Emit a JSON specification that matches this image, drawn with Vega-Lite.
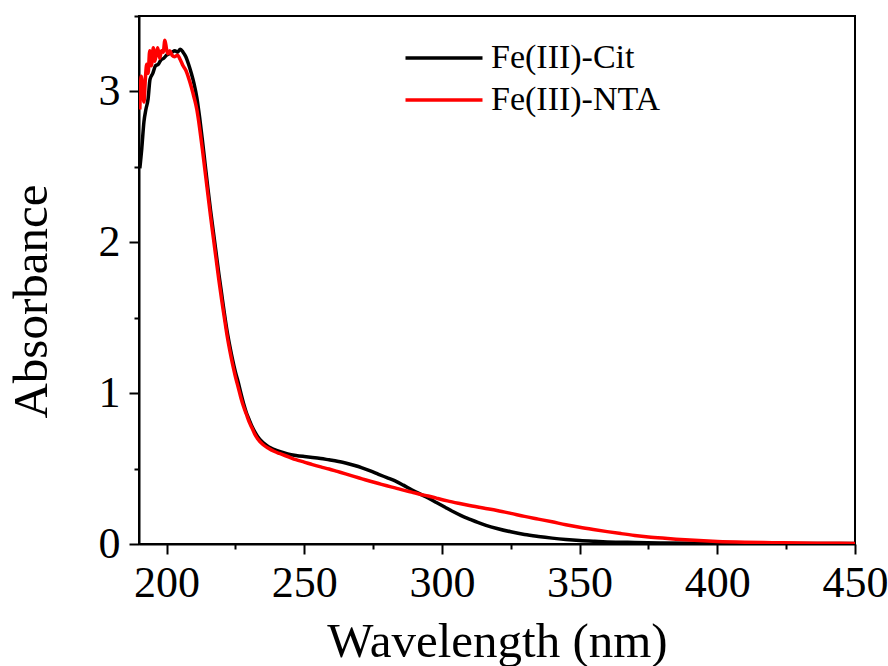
{
  "$schema": "https://vega.github.io/schema/vega-lite/v6.json",
  "autosize": {"type": "none"},
  "padding": {"left": 139, "top": 16, "right": 33, "bottom": 122},
  "width": 716,
  "height": 528,
  "background": "white",
  "config": {
    "view": {"stroke": "black", "strokeWidth": 2},
    "font": "Liberation Serif"
  },
  "datasets": {
    "cit": [
      {"w": 190.3, "a": 2.49}, {"w": 191, "a": 2.62}, {"w": 191.8, "a": 2.8}, {"w": 192.5, "a": 2.88},
      {"w": 193.3, "a": 2.95}, {"w": 194, "a": 3.08}, {"w": 195, "a": 3.12}, {"w": 196, "a": 3.17},
      {"w": 197, "a": 3.18}, {"w": 198, "a": 3.21}, {"w": 199, "a": 3.22}, {"w": 200, "a": 3.24},
      {"w": 201, "a": 3.25}, {"w": 202, "a": 3.26}, {"w": 203, "a": 3.27}, {"w": 204, "a": 3.26},
      {"w": 205, "a": 3.28}, {"w": 206, "a": 3.26}, {"w": 207, "a": 3.23}, {"w": 208, "a": 3.18},
      {"w": 209, "a": 3.12}, {"w": 210, "a": 3.05}, {"w": 211, "a": 2.96}, {"w": 212, "a": 2.83},
      {"w": 213, "a": 2.68}, {"w": 214, "a": 2.52}, {"w": 215, "a": 2.36}, {"w": 216, "a": 2.21},
      {"w": 217, "a": 2.07}, {"w": 218, "a": 1.93}, {"w": 219, "a": 1.79}, {"w": 220, "a": 1.66},
      {"w": 221, "a": 1.53}, {"w": 222, "a": 1.41}, {"w": 223, "a": 1.31}, {"w": 224, "a": 1.22},
      {"w": 225, "a": 1.14}, {"w": 226, "a": 1.075}, {"w": 227, "a": 1.0}, {"w": 228, "a": 0.93},
      {"w": 229, "a": 0.87}, {"w": 230, "a": 0.825}, {"w": 231, "a": 0.78}, {"w": 232, "a": 0.745},
      {"w": 233, "a": 0.715}, {"w": 235, "a": 0.672}, {"w": 237, "a": 0.645}, {"w": 239, "a": 0.627},
      {"w": 241, "a": 0.613}, {"w": 244, "a": 0.597}, {"w": 247, "a": 0.587}, {"w": 250, "a": 0.58},
      {"w": 253, "a": 0.574}, {"w": 256, "a": 0.567}, {"w": 259, "a": 0.558}, {"w": 262, "a": 0.549},
      {"w": 265, "a": 0.537}, {"w": 268, "a": 0.522}, {"w": 271, "a": 0.505}, {"w": 274, "a": 0.485},
      {"w": 277, "a": 0.462}, {"w": 280, "a": 0.44}, {"w": 283, "a": 0.418}, {"w": 286, "a": 0.39},
      {"w": 289, "a": 0.36}, {"w": 292, "a": 0.332}, {"w": 295, "a": 0.305}, {"w": 298, "a": 0.275},
      {"w": 301, "a": 0.245}, {"w": 304, "a": 0.215}, {"w": 307, "a": 0.188}, {"w": 310, "a": 0.165},
      {"w": 313, "a": 0.143}, {"w": 316, "a": 0.124}, {"w": 320, "a": 0.103}, {"w": 325, "a": 0.081},
      {"w": 330, "a": 0.063}, {"w": 335, "a": 0.05}, {"w": 340, "a": 0.039}, {"w": 345, "a": 0.03},
      {"w": 350, "a": 0.023}, {"w": 355, "a": 0.018}, {"w": 360, "a": 0.014}, {"w": 370, "a": 0.01},
      {"w": 380, "a": 0.007}, {"w": 400, "a": 0.005}, {"w": 420, "a": 0.004}, {"w": 450, "a": 0.003}
    ],
    "nta": [
      {"w": 190.3, "a": 2.88}, {"w": 190.8, "a": 3.1}, {"w": 191.3, "a": 3.02}, {"w": 191.8, "a": 2.93},
      {"w": 192.3, "a": 3.08}, {"w": 192.8, "a": 3.18}, {"w": 193.3, "a": 3.12}, {"w": 193.9, "a": 3.27},
      {"w": 194.5, "a": 3.17}, {"w": 195.2, "a": 3.29}, {"w": 195.7, "a": 3.2}, {"w": 196.2, "a": 3.24},
      {"w": 196.8, "a": 3.29}, {"w": 197.5, "a": 3.22}, {"w": 198.2, "a": 3.27}, {"w": 198.8, "a": 3.26},
      {"w": 199.4, "a": 3.34}, {"w": 200, "a": 3.28}, {"w": 200.5, "a": 3.25}, {"w": 201.2, "a": 3.27},
      {"w": 202, "a": 3.24}, {"w": 203, "a": 3.23}, {"w": 204, "a": 3.24}, {"w": 205, "a": 3.21},
      {"w": 206, "a": 3.17}, {"w": 207, "a": 3.14}, {"w": 208, "a": 3.09}, {"w": 209, "a": 3.03},
      {"w": 210, "a": 2.96}, {"w": 211, "a": 2.88}, {"w": 212, "a": 2.76}, {"w": 213, "a": 2.62},
      {"w": 214, "a": 2.47}, {"w": 215, "a": 2.32}, {"w": 216, "a": 2.17}, {"w": 217, "a": 2.03},
      {"w": 218, "a": 1.89}, {"w": 219, "a": 1.75}, {"w": 220, "a": 1.62}, {"w": 221, "a": 1.5},
      {"w": 222, "a": 1.38}, {"w": 223, "a": 1.28}, {"w": 224, "a": 1.19}, {"w": 225, "a": 1.11},
      {"w": 226, "a": 1.04}, {"w": 227, "a": 0.97}, {"w": 228, "a": 0.91}, {"w": 229, "a": 0.86},
      {"w": 230, "a": 0.81}, {"w": 231, "a": 0.77}, {"w": 232, "a": 0.73}, {"w": 233, "a": 0.7},
      {"w": 235, "a": 0.66}, {"w": 237, "a": 0.635}, {"w": 239, "a": 0.615}, {"w": 241, "a": 0.6},
      {"w": 244, "a": 0.58}, {"w": 247, "a": 0.559}, {"w": 250, "a": 0.543}, {"w": 253, "a": 0.526},
      {"w": 256, "a": 0.511}, {"w": 259, "a": 0.497}, {"w": 262, "a": 0.481}, {"w": 265, "a": 0.465},
      {"w": 268, "a": 0.448}, {"w": 271, "a": 0.432}, {"w": 274, "a": 0.416}, {"w": 277, "a": 0.401},
      {"w": 280, "a": 0.386}, {"w": 283, "a": 0.372}, {"w": 286, "a": 0.357}, {"w": 289, "a": 0.344},
      {"w": 292, "a": 0.33}, {"w": 295, "a": 0.318}, {"w": 298, "a": 0.304}, {"w": 302, "a": 0.286},
      {"w": 306, "a": 0.27}, {"w": 310, "a": 0.255}, {"w": 315, "a": 0.238}, {"w": 320, "a": 0.222},
      {"w": 325, "a": 0.203}, {"w": 330, "a": 0.183}, {"w": 335, "a": 0.165}, {"w": 340, "a": 0.147},
      {"w": 345, "a": 0.128}, {"w": 350, "a": 0.111}, {"w": 355, "a": 0.096}, {"w": 360, "a": 0.082},
      {"w": 365, "a": 0.069}, {"w": 370, "a": 0.057}, {"w": 375, "a": 0.047}, {"w": 380, "a": 0.039},
      {"w": 385, "a": 0.032}, {"w": 390, "a": 0.026}, {"w": 395, "a": 0.021}, {"w": 400, "a": 0.017},
      {"w": 410, "a": 0.012}, {"w": 420, "a": 0.009}, {"w": 430, "a": 0.007}, {"w": 440, "a": 0.005},
      {"w": 450, "a": 0.004}
    ]
  },
  "layer": [
    {
      "data": {"name": "cit"},
      "transform": [{"calculate": "'Fe(III)-Cit'", "as": "series"}],
      "mark": {"type": "line", "strokeWidth": 3.5, "interpolate": "monotone", "clip": true},
      "encoding": {
        "x": {"field": "w", "type": "quantitative"},
        "y": {"field": "a", "type": "quantitative"},
        "color": {"field": "series", "type": "nominal"}
      }
    },
    {
      "data": {"name": "nta"},
      "transform": [{"calculate": "'Fe(III)-NTA'", "as": "series"}],
      "mark": {"type": "line", "strokeWidth": 3.5, "interpolate": "monotone", "clip": true},
      "encoding": {
        "x": {"field": "w", "type": "quantitative"},
        "y": {"field": "a", "type": "quantitative"},
        "color": {"field": "series", "type": "nominal"}
      }
    }
  ],
  "encoding": {
    "x": {
      "field": "w", "type": "quantitative",
      "scale": {"domain": [190, 450], "nice": false, "zero": false},
      "axis": {
        "title": "Wavelength (nm)",
        "values": [200, 225, 250, 275, 300, 325, 350, 375, 400, 425, 450],
        "labelExpr": "datum.value % 50 === 0 ? format(datum.value, 'd') : ''",
        "labelFlush": false, "labelOverlap": false,
        "grid": false,
        "domainColor": "black", "domainWidth": 2,
        "tickColor": "black", "tickWidth": 2,
        "tickSize": {"condition": {"test": "datum.value % 50 === 0", "value": 10}, "value": 5},
        "labelFont": "Liberation Serif", "labelFontSize": 44, "labelColor": "black", "labelPadding": 7,
        "titleFont": "Liberation Serif", "titleFontSize": 49, "titleFontWeight": "normal", "titleColor": "black", "titlePadding": 12
      }
    },
    "y": {
      "field": "a", "type": "quantitative",
      "scale": {"domain": [0, 3.5], "nice": false},
      "axis": {
        "title": "Absorbance",
        "values": [0, 0.5, 1, 1.5, 2, 2.5, 3, 3.5],
        "labelExpr": "datum.value % 1 === 0 ? format(datum.value, 'd') : ''",
        "labelFlush": false, "labelOverlap": false,
        "grid": false,
        "domainColor": "black", "domainWidth": 2,
        "tickColor": "black", "tickWidth": 2,
        "tickSize": {"condition": {"test": "datum.value % 1 === 0", "value": 10}, "value": 5},
        "labelFont": "Liberation Serif", "labelFontSize": 44, "labelColor": "black", "labelPadding": 9,
        "titleFont": "Liberation Serif", "titleFontSize": 49, "titleFontWeight": "normal", "titleColor": "black", "titlePadding": 42,
        "titleY": 285
      }
    },
    "color": {
      "field": "series", "type": "nominal",
      "scale": {"domain": ["Fe(III)-Cit", "Fe(III)-NTA"], "range": ["#000000", "#ff0000"]},
      "legend": {
        "title": null, "orient": "none", "legendX": 284, "legendY": 21,
        "padding": 0, "rowPadding": 4,
        "symbolType": "M-2,0H2", "symbolSize": 1482, "symbolStrokeWidth": 3.5,
        "labelFont": "Liberation Serif", "labelFontSize": 34, "labelColor": "black", "labelOffset": 26,
        "labelLimit": 0
      }
    }
  }
}
